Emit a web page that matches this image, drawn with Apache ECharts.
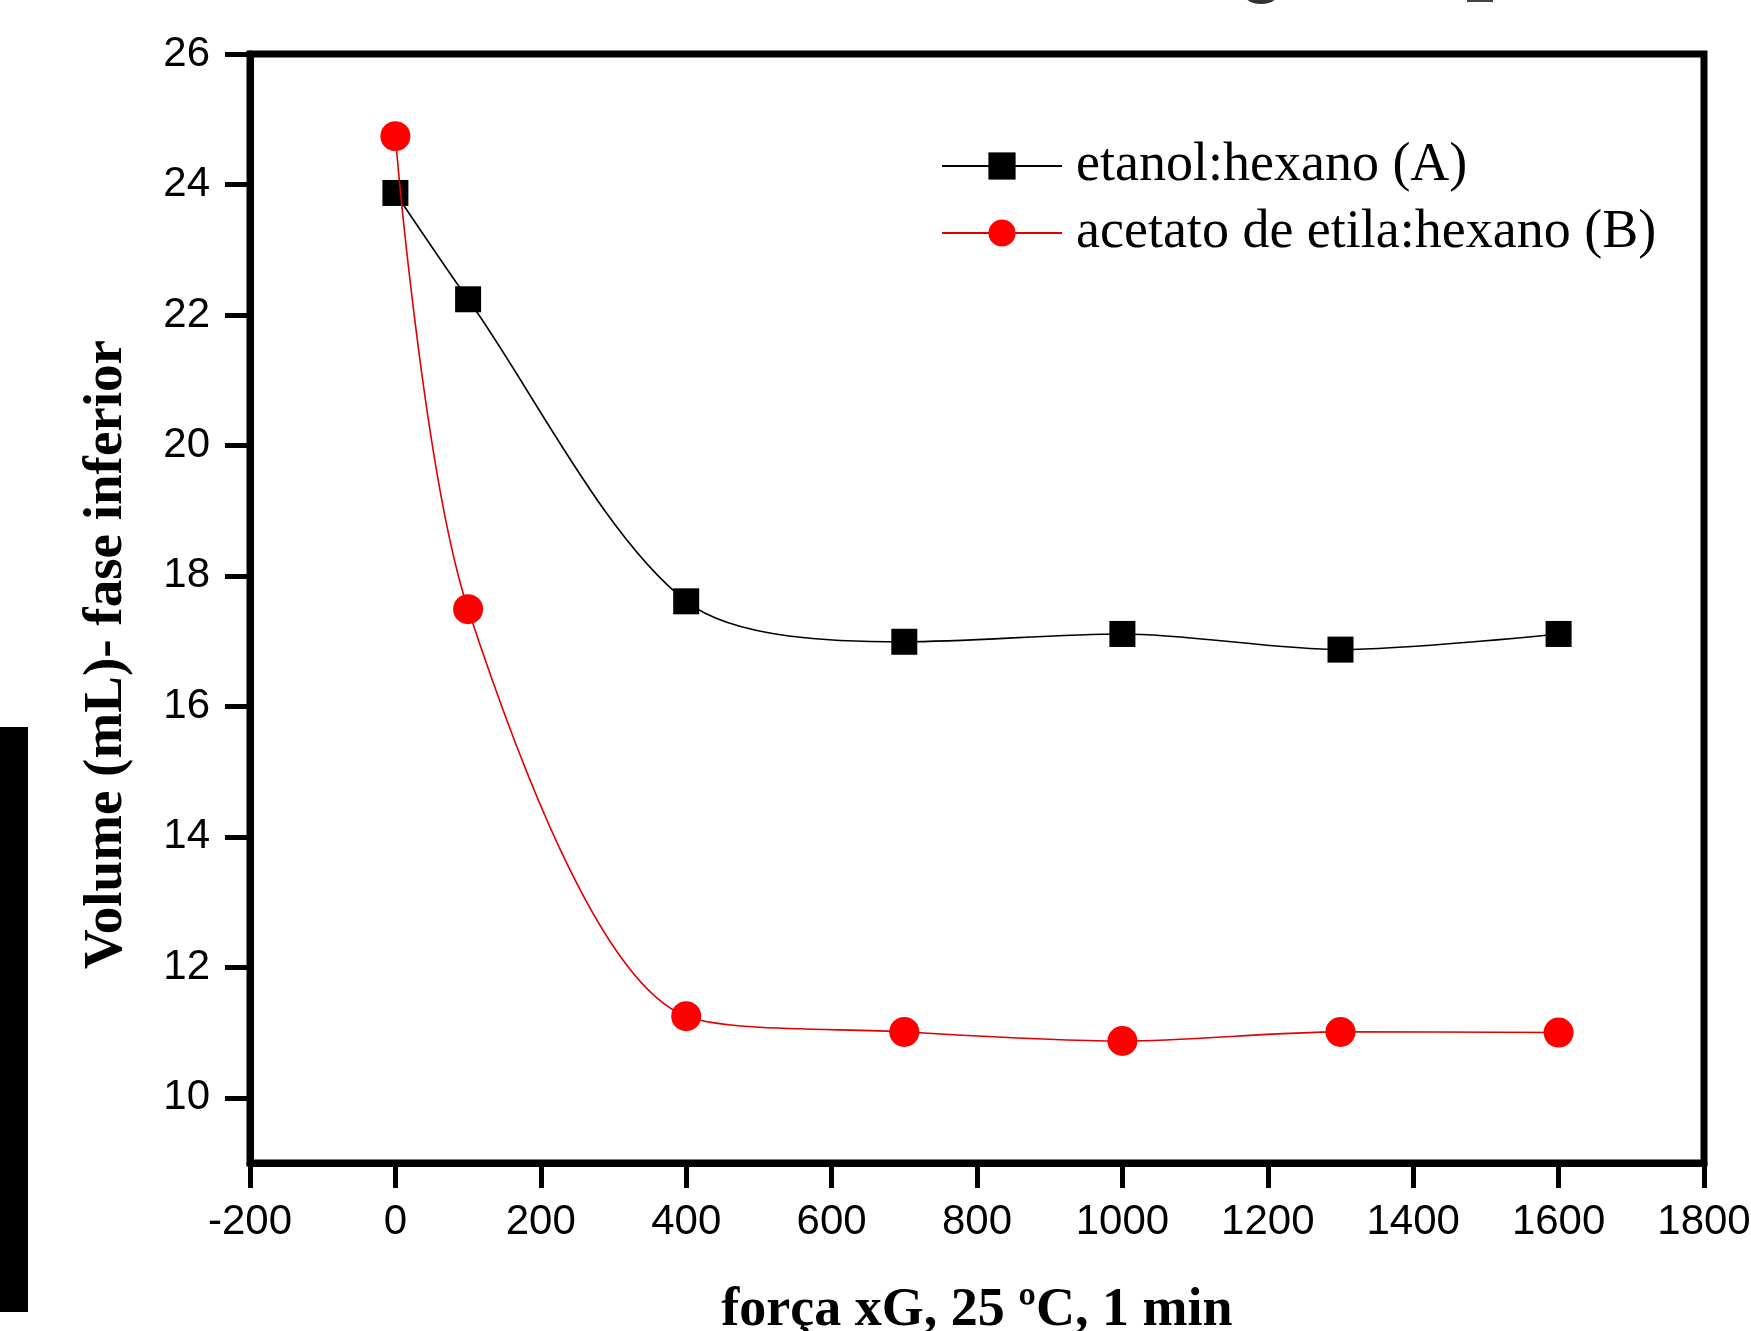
<!DOCTYPE html>
<html>
<head>
<meta charset="utf-8">
<script src="https://cdn.jsdelivr.net/npm/echarts@6/dist/echarts.min.js"></script>
<style>
  html, body { margin: 0; padding: 0; background: #fff; }
  #chart { width: 1751px; height: 1331px; }
</style>
</head>
<body>
<div id="chart"></div>
<script>
// ---- data ----
const xValues = [0, 100, 400, 700, 1000, 1300, 1600];
const seriesA = [23.87, 22.24, 17.61, 16.99, 17.11, 16.87, 17.11]; // etanol:hexano (A)
const seriesB = [24.74, 17.49, 11.25, 11.01, 10.87, 11.01, 11.00]; // acetato de etila:hexano (B)
const nameA = 'etanol:hexano (A)';
const nameB = 'acetato de etila:hexano (B)';
const yTickValues = [10, 12, 14, 16, 18, 20, 22, 24, 26];
const xTitle = 'força xG, 25 ºC, 1 min';
const yTitle = 'Volume (mL)- fase inferior';

const pairs = (xs, ys) => xs.map((x, i) => [x, ys[i]]);

const chart = echarts.init(document.getElementById('chart'), null, { renderer: 'canvas' });

const option = {
  backgroundColor: '#ffffff',
  animation: false,
  grid: {
    left: 250, right: 47, top: 54, bottom: 168,
    outerBoundsMode: 'none', containLabel: false,
    show: true, borderColor: '#000', borderWidth: 7, backgroundColor: 'transparent'
  },
  legend: {
    left: 941, top: 139, padding: 0,
    orient: 'vertical',
    itemWidth: 120, itemHeight: 34, itemGap: 13,
    textStyle: { fontFamily: '"Liberation Serif", "Times New Roman", serif', fontSize: 54, color: '#000', lineHeight: 54, padding: [0, 0, 0, 9] },
    data: [nameA, nameB]
  },
  xAxis: {
    type: 'value', min: -200, max: 1800, interval: 200,
    name: xTitle, nameLocation: 'middle', nameGap: 121,
    nameTextStyle: { fontFamily: '"Liberation Serif", "Times New Roman", serif', fontWeight: 'bold', fontSize: 54, color: '#000' },
    axisLine: { show: true, onZero: false, lineStyle: { color: '#000', width: 7 } },
    axisTick: { show: true, inside: false, length: 25, lineStyle: { color: '#000', width: 5 } },
    axisLabel: { margin: 38, formatter: v => String(v), fontFamily: '"Liberation Sans", Arial, sans-serif', fontSize: 42, color: '#000' },
    splitLine: { show: false }
  },
  yAxis: {
    type: 'value', min: 9, max: 26,
    name: yTitle, nameLocation: 'middle', nameGap: 116, nameRotate: 90,
    nameTextStyle: { fontFamily: '"Liberation Serif", "Times New Roman", serif', fontWeight: 'bold', fontSize: 55, color: '#000', padding: [0, 92, 0, 0] },
    axisLine: { show: true, onZero: false, lineStyle: { color: '#000', width: 7 } },
    axisTick: { show: true, inside: false, length: 25, customValues: yTickValues, lineStyle: { color: '#000', width: 5 } },
    axisLabel: { margin: 40, customValues: yTickValues, formatter: v => String(v), fontFamily: '"Liberation Sans", Arial, sans-serif', fontSize: 42, color: '#000' },
    splitLine: { show: false }
  },
  series: [
    {
      name: nameA, type: 'line', data: pairs(xValues, seriesA),
      smooth: 0.3,
      symbol: 'rect', symbolSize: 26,
      itemStyle: { color: '#000' },
      lineStyle: { color: '#000', width: 1.6 },
      z: 3
    },
    {
      name: nameB, type: 'line', data: pairs(xValues, seriesB),
      smooth: 0.3,
      symbol: 'circle', symbolSize: 30,
      itemStyle: { color: '#ff0000' },
      lineStyle: { color: '#e00000', width: 1.6 },
      z: 4
    }
  ],
  graphic: [
    { type: 'rect', left: 0, top: 727, shape: { width: 28, height: 585 }, style: { fill: '#000' }, silent: true },
    { type: 'ellipse', shape: { cx: 1261, cy: -6, rx: 17, ry: 10 }, style: { fill: '#333' }, silent: true },
    { type: 'rect', shape: { x: 1467, y: 0, width: 26, height: 2 }, style: { fill: '#444' }, silent: true }
  ]
};

chart.setOption(option);
</script>
</body>
</html>
